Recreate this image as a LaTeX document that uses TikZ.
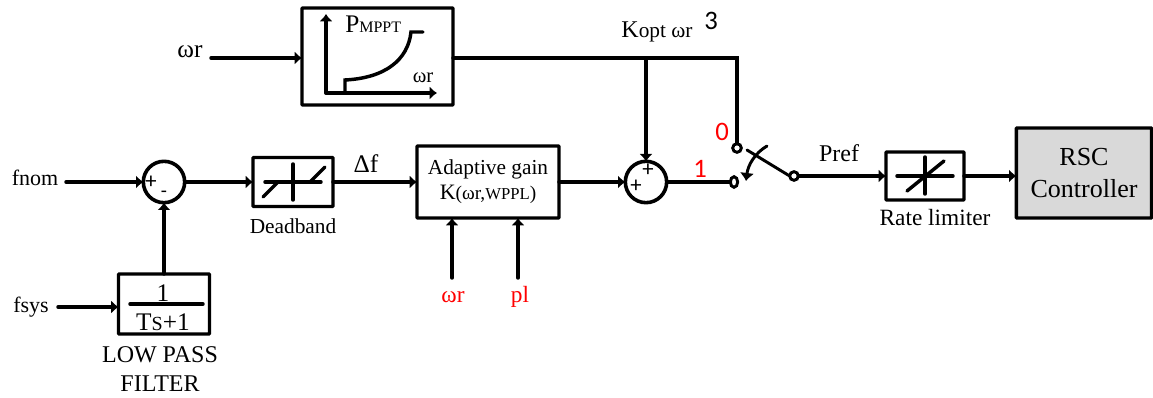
\documentclass[tikz,border=0pt]{standalone}
\usepackage{fontspec}
\setmainfont{Liberation Serif}
\newfontfamily\calfont{Carlito}
\usetikzlibrary{arrows.meta,shapes.geometric}
\newcommand{\fsz}[1]{\fontsize{#1}{#1}\selectfont}
\definecolor{rscgray}{RGB}{217,217,217}
\tikzset{
  wire/.style={line width=2.6pt,line cap=round,line join=miter},
  thinwire/.style={line width=2.2pt,line cap=round},
  sig/.style={wire,-{Latex[length=5.5pt,width=10pt]}},
  blockbox/.style={draw,line width=2.6pt,rounded corners=0.6pt,inner sep=0pt,outer sep=0pt},
  sumcirc/.style={draw,circle,line width=2.7pt,minimum size=31pt,inner sep=0pt,outer sep=0pt},
  term/.style={draw,circle,line width=2.2pt,minimum size=6.5pt,inner sep=0pt,outer sep=0pt},
  termB/.style={draw,ellipse,line width=2.2pt,minimum width=5.5pt,minimum height=8pt,inner sep=0pt,outer sep=0pt},
  lab/.style={inner sep=0pt,font=\fsz{17}},
  caplab/.style={inner sep=0pt,font=\fsz{17.5},align=center},
  redlab/.style={inner sep=0pt,text=red,font=\fsz{17.5}},
  calnum/.style={inner sep=0pt,font=\calfont\fsz{20}},
  signlab/.style={inner sep=0pt,font=\calfont\fsz{17}},
}
\begin{document}
\begin{tikzpicture}[x=0.75pt,y=-0.75pt]
\useasboundingbox (0,0) rectangle (1153,398);
% blocks
\node[blockbox,minimum width=113.25pt,minimum height=72.75pt] (pmppt) at (377.5,56.5) {};
\node[sumcirc] (sumA) at (164,182) {};
\node[blockbox,minimum width=60pt,minimum height=36.75pt] (dead) at (293,182) {};
\node[blockbox,minimum width=106.5pt,minimum height=54pt] (adapt) at (488,182)
  {\begin{tabular}{@{}c@{}}\fsz{16}Adaptive gain\\[4pt]\fsz{16.5}K\fsz{14.5}(ωr,\fsz{12.5}WPPL\fsz{14.5})\end{tabular}};
\node[sumcirc] (sumB) at (646,182) {};
\node[blockbox,minimum width=68.25pt,minimum height=45pt] (lpf) at (164,304) {};
\node[blockbox,minimum width=58.5pt,minimum height=36pt] (rate) at (925,176) {};
\node[blockbox,fill=rscgray,minimum width=101.5pt,minimum height=67.5pt,align=center,font=\fsz{19.5}] (rsc) at (1084,173) {RSC\\[4.5pt]Controller};
\node[term] (t0) at (737,148) {};
\node[termB] (t1) at (734,182) {};
\node[term] (tp) at (794,176) {};
% free ends
\coordinate (inW) at (211,58);
\coordinate (inF) at (66,182);
\coordinate (inS) at (58,307);
\coordinate (inWr) at (452,278);
\coordinate (inPl) at (518,278);
\coordinate (topC) at (737,58);
\coordinate (levA) at (747,150);
\coordinate (swS) at (767,146);
\coordinate (swE) at (746,181);
% connectors
\draw[sig] (inW) -- (inW -| pmppt.west);
\draw[wire] (pmppt.east |- inW) -- (topC) -- (t0.north);
\coordinate (branch) at (sumB.north |- inW);
\draw[sig] (branch) -- (sumB.north);
\draw[sig] (inF) -- (sumA.west);
\draw[sig] (sumA.east) -- (dead.west);
\draw[sig] (dead.east) -- (adapt.west);
\draw[sig] (adapt.east) -- (sumB.west);
\draw[wire] (sumB.east) -- (t1.west);
\draw[sig] (lpf.north) -- (sumA.south);
\draw[sig] (inS) -- (inS -| lpf.west);
\draw[sig] (inWr) -- (inWr |- adapt.south);
\draw[sig] (inPl) -- (inPl |- adapt.south);
\draw[sig] (tp.east) -- (rate.west);
\draw[sig] (rate.east) -- (rate.east -| rsc.west);
\draw[thinwire] (levA) -- (tp.west);
\draw[thinwire,-{Latex[length=6pt,width=11pt]}] (swS) .. controls (755,153) and (748,165) .. (swE);
% PMPPT icon
\draw[sig] (326,93) -- (326,14);
\draw[sig] (326,93) -- (437,93);
\draw[wire] (345,93) -- (345,80) .. controls (385,78) and (408,60) .. (411,32) -- (423,32);
\node[inner sep=0pt,anchor=base west,font=\fsz{19}] (ptxt) at (345,33) {P\fsz{12}MPPT};
\node[inner sep=0pt,font=\fsz{15.5}] (wtxt) at (423,78) {ωr};
% deadband icon
\draw[wire] (265,182) -- (321,182);
\draw[wire] (293,164) -- (293,200);
\draw[wire] (263,197) -- (278,182);
\draw[wire] (310,182) -- (325,167);
% rate limiter icon
\draw[wire] (897,176) -- (953,176);
\draw[wire] (925,157) -- (925,194);
\draw[wire] (907,191) -- (944,161);
% LPF contents
\draw[wire] (130,304) -- (203,304);
\node[lab,font=\fsz{19}] (lpfn) at (163,293) {1};
\node[lab,font=\fsz{19}] (lpfd) at (163,322) {T\fsz{15}S\fsz{19}+1};
% labels
\node[lab,font=\fsz{19}] (lw) at (190,52) {ωr};
\node[lab,font=\fsz{16.5}] (lf) at (35,178) {fnom};
\node[lab,font=\fsz{16.5}] (ls) at (31,307) {fsys};
\node[lab,font=\fsz{19}] (ld) at (366,164) {Δf};
\node[caplab,font=\fsz{16}] (cd) at (293,226) {Deadband};
\node[caplab,font=\fsz{18}] (cl) at (160,369) {LOW PASS\\[3.5pt]FILTER};
\node[caplab] (cr) at (935,218) {Rate limiter};
\node[lab] (lk) at (657,32) {\fsz{18}K\fsz{16}opt ωr};
\node[calnum] (l3) at (711,21) {3};
\node[redlab] (lr1) at (453,297) {ωr};
\node[redlab] (lr2) at (520,297) {pl};
\node[calnum,text=red] (n0) at (722,132) {0};
\node[calnum,text=red] (n1) at (700,169) {1};
\node[lab,font=\fsz{18}] (lp) at (839,153) {Pref};
\node[signlab] (sa1) at (151,182) {+};
\node[signlab,font=\calfont\fsz{15}] (sa2) at (164,194) {-};
\node[signlab] (sb1) at (648,170) {+};
\node[signlab] (sb2) at (636,186) {+};
\end{tikzpicture}
\end{document}
